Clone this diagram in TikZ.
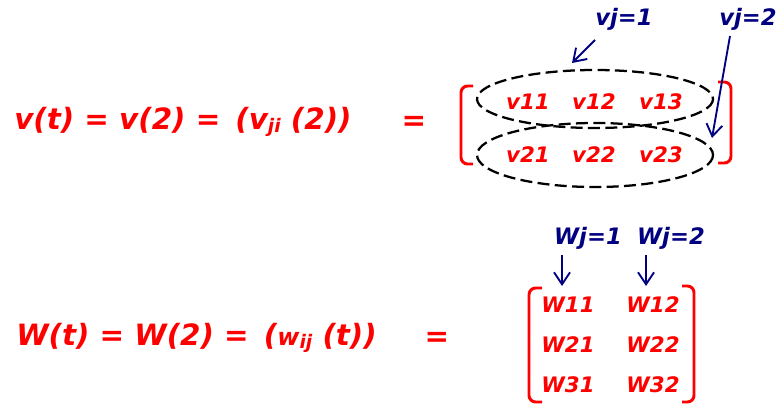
\documentclass[tikz,border=0pt]{standalone}
\usepackage{fontspec}
\setmainfont{DejaVu Sans}[BoldItalicFont={DejaVu Sans Bold Oblique}]
\usetikzlibrary{arrows.meta,positioning,calc}
\definecolor{eqred}{RGB}{255,0,0}
\definecolor{labelblue}{RGB}{0,0,128}
\tikzstyle{eq} = [eqred,font=\fontsize{22}{26}\selectfont\bfseries\itshape,inner sep=0pt,anchor=west]
\tikzstyle{entry} = [eqred,font=\fontsize{16}{19}\selectfont\bfseries\itshape,inner sep=0pt]
\tikzstyle{colname} = [labelblue,font=\fontsize{17}{20}\selectfont\bfseries\itshape,inner sep=0pt]
\tikzstyle{bracket} = [eqred,line width=2.2pt,rounded corners=5pt]
\tikzstyle{group line} = [black,line width=1.7pt,dash pattern=on 9pt off 4pt]
\tikzstyle{pointer} = [labelblue,line width=1.4pt,-{Straight Barb[length=9pt,width=12pt]}]

\begin{document}
\begin{tikzpicture}[x=0.75pt,y=-0.75pt]
        \useasboundingbox (0,0) rectangle (780,407);

        % first line: v(t)
        \node[eq] (veq) at (14,122) {v(t) = v(2) = \,(v{\fontsize{14}{16}\selectfont\raisebox{-2pt}{ji}} (2))};
        \node[eq,anchor=center] (vis) at (414,123) {=};

        \draw[bracket] (473,86) -- (461,86) -- (461,164) -- (473,164);
        \draw[bracket] (718,82) -- (731,82) -- (731,163) -- (718,163);

        \draw[group line] (595,99) ellipse [x radius=118, y radius=29];
        \draw[group line] (595,155) ellipse [x radius=118, y radius=32];

        \node[entry] (v11) at (528,102) {v11};
        \node[entry] (v12) at (594,102) {v12};
        \node[entry] (v13) at (661,102) {v13};
        \node[entry] (v21) at (528,155) {v21};
        \node[entry] (v22) at (594,155) {v22};
        \node[entry] (v23) at (661,155) {v23};

        \node[colname] (vj1) at (624,19) {vj=1};
        \node[colname] (vj2) at (748,19) {vj=2};
        \coordinate (vj1 tail) at (595,40);
        \coordinate (vj1 tip) at (572,63);
        \coordinate (vj2 tail) at (730,36);
        \coordinate (vj2 tip) at (712,138);
        \draw[pointer] (vj1 tail) -- (vj1 tip);
        \draw[pointer] (vj2 tail) -- (vj2 tip);

        % second line: W(t)
        \node[eq] (weq) at (16,338) {W(t) = W(2) = \,({\fontsize{18}{20}\selectfont w\fontsize{14}{16}\selectfont\raisebox{-2pt}{ij}} (t))};
        \node[eq,anchor=center] (wis) at (437,339) {=};

        \draw[bracket] (542,288) -- (529,288) -- (529,402) -- (542,402);
        \draw[bracket] (682,286) -- (694,286) -- (694,402) -- (682,402);

        \node[entry] (w11) at (568,305) {W11};
        \node[entry] (w12) at (653,305) {W12};
        \node[entry] (w21) at (568,345) {W21};
        \node[entry] (w22) at (653,345) {W22};
        \node[entry] (w31) at (568,385) {W31};
        \node[entry] (w32) at (653,385) {W32};

        \node[colname] (wj1) at (588,238) {Wj=1};
        \node[colname] (wj2) at (671,238) {Wj=2};
        \coordinate (wj1 tip) at (562,286);
        \coordinate (wj2 tip) at (646,286);
        \draw[pointer] (wj1.south -| wj1 tip) ++(0,6) -- (wj1 tip);
        \draw[pointer] (wj2.south -| wj2 tip) ++(0,6) -- (wj2 tip);
\end{tikzpicture}
\end{document}
